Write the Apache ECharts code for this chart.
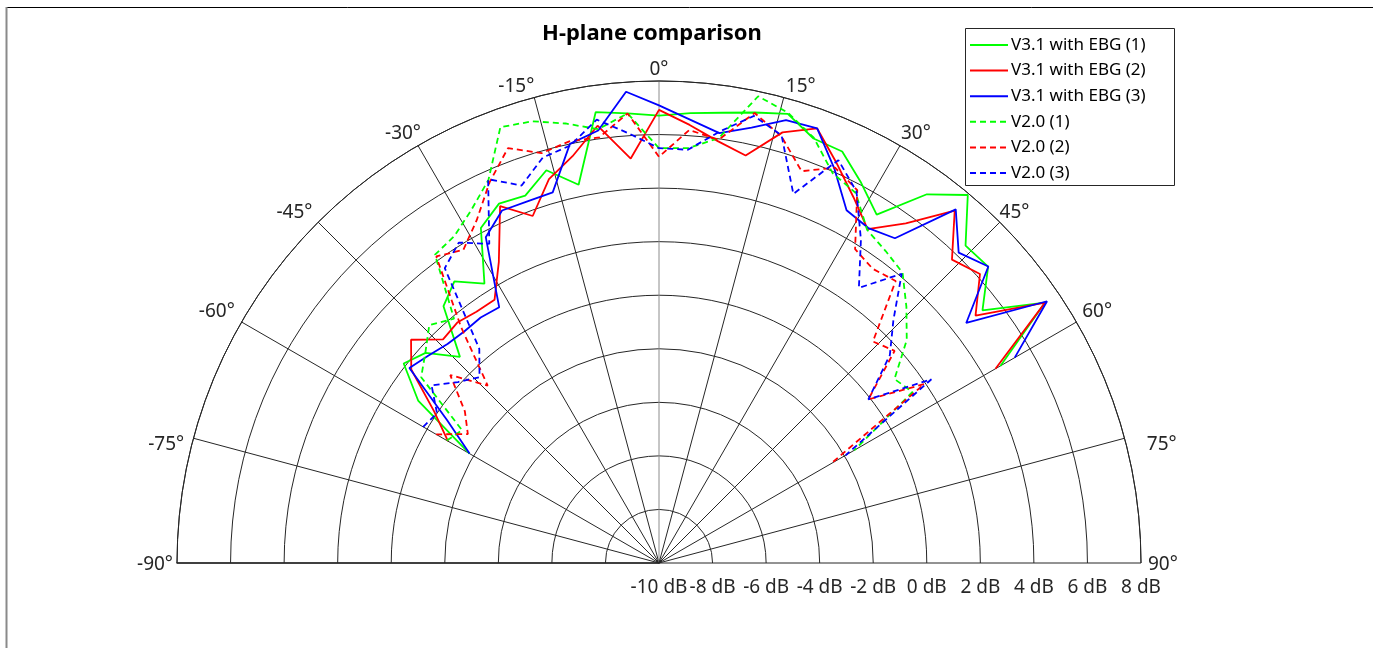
<!DOCTYPE html>
<html>
<head>
<meta charset="utf-8">
<script src="https://cdn.jsdelivr.net/npm/echarts@6/dist/echarts.min.js"></script>
<style>
  html, body { margin: 0; padding: 0; background: #fff; }
  #chart { width: 1373px; height: 648px; }
</style>
</head>
<body>
<div id="chart"></div>
<script>
// Measurement angles (degrees) shared by every pattern cut
const angles = [-60,-56,-52,-48,-44,-40,-36,-32,-28,-24,-20,-16,-12,-8,-4,0,4,8,12,16,20,24,28,32,36,40,44,48,52,56,60];

// Received level in dB, one value per angle
const v31ebg1 = [-1.83,0.85,2.10,1.73,0.70,2.52,3.00,2.30,4.17,4.69,4.60,5.26,4.44,7.00,6.83,6.71,6.84,6.98,7.20,7.45,6.87,6.82,6.08,5.34,7.02,7.94,6.48,6.54,5.33,7.39,4.72];
const v31ebg2 = [-0.90,0.13,1.74,2.46,1.61,1.72,1.60,1.59,2.74,4.59,3.79,4.91,5.53,6.49,5.14,6.92,6.40,5.90,5.56,6.73,7.27,6.33,5.47,4.70,5.68,7.18,5.75,6.13,5.00,7.39,4.51];
const v31ebg3 = [-1.83,-0.45,1.83,1.58,1.37,1.30,1.33,1.26,3.78,4.41,4.37,4.40,6.00,6.31,7.64,7.09,6.60,6.21,6.62,7.21,7.27,6.11,4.92,4.75,4.99,7.24,6.11,6.55,4.56,7.48,5.34];
const v20_1 = [-0.85,-1.13,1.27,1.74,2.35,1.91,4.23,4.41,4.93,5.66,7.32,7.16,6.78,6.36,6.83,5.49,5.53,6.02,7.82,7.49,6.90,5.94,5.65,4.67,4.40,4.15,3.30,2.45,1.16,1.42,-1.58];
const v20_2 = [-0.39,-1.39,-0.80,0.49,-0.79,1.50,4.15,3.79,4.50,5.56,6.49,5.92,6.10,6.05,6.83,5.17,6.21,5.96,7.18,6.58,5.57,6.16,5.77,3.82,3.58,3.75,1.50,1.84,-0.08,1.95,-2.60];
const v20_3 = [0.17,0.00,0.78,0.10,-0.35,0.44,3.61,4.11,3.50,5.69,5.00,5.75,5.94,6.72,6.08,5.49,5.47,6.27,7.07,6.61,4.67,6.47,5.71,4.23,2.70,4.10,2.60,1.60,-0.08,2.27,-1.95];

const seriesNames = ['V3.1 with EBG (1)','V3.1 with EBG (2)','V3.1 with EBG (3)','V2.0 (1)','V2.0 (2)','V2.0 (3)'];
const seriesValues = [v31ebg1, v31ebg2, v31ebg3, v20_1, v20_2, v20_3];
const seriesColors = ['#00ff00','#ff0000','#0000ff','#00ff00','#ff0000','#0000ff'];
const seriesDashed = [false,false,false,true,true,true];

// Axis ranges and tick steps
const angleMin = -90, angleMax = 90, angleStep = 15;
const levelMin = -10, levelMax = 8, levelStep = 2;

const FONT = '"Noto Sans", "DejaVu Sans", sans-serif';
const INK = '#262626';
const CX = 659, CY = 563, R = 482;

// Spokes: dark, except the 0° one which is drawn grey
const spokeColors = [];
for (let a = angleMin; a <= angleMax; a += angleStep) spokeColors.push(a === 0 ? '#8c8c8c' : INK);

// Angle label nudges [top, right, bottom, left] so each label sits centred on its spoke
const angleLabelPad = {
  '-90': [4, 10, 0, 0], '-75': [10, 15, 0, 0], '-60': [0, 12, 4, 0], '-45': [0, 10, 4, 0],
  '-30': [0, 0, 8, 0], '-15': [0, 39, 7, 0], '0': [0, 0, 8, 0], '15': [0, 0, 7, 37],
  '30': [0, 0, 8, 4], '45': [0, 0, 4, 4], '60': [0, 0, 4, 11], '75': [10, 0, 0, 28], '90': [4, 0, 0, 13]
};
const angleRich = {};
const angleRichKey = {};
Object.keys(angleLabelPad).forEach((k, i) => {
  angleRich['a' + i] = { fontFamily: FONT, fontSize: 19, color: INK, padding: angleLabelPad[k] };
  angleRichKey[k] = 'a' + i;
});

const chart = echarts.init(document.getElementById('chart'), null, { renderer: 'canvas' });

const series = seriesNames.map((name, i) => ({
  name,
  type: 'line',
  coordinateSystem: 'polar',
  polarIndex: 0,
  symbol: 'none',
  animation: false,
  clip: false,
  data: angles.map((a, k) => [seriesValues[i][k], a]),
  lineStyle: {
    color: seriesColors[i],
    width: 1.8,
    type: seriesDashed[i] ? [6, 4] : 'solid'
  },
  itemStyle: { color: seriesColors[i] },
  z: 3
}));

chart.setOption({
  animation: false,
  backgroundColor: '#ffffff',
  title: {
    text: 'H-plane comparison',
    left: 647,
    top: 18,
    textAlign: 'center',
    textStyle: { fontFamily: FONT, fontSize: 22, fontWeight: 'bold', color: '#000' }
  },
  legend: {
    orient: 'vertical',
    left: 969,
    top: 36,
    padding: 0,
    itemWidth: 38,
    itemHeight: 14,
    itemGap: 7.6,
    itemStyle: { opacity: 0 },
    data: seriesNames,
    textStyle: { fontFamily: FONT, fontSize: 17, lineHeight: 18, color: '#000', padding: [0, 0, 0, -2] }
  },
  polar: { center: [CX, CY], radius: [0, R] },
  angleAxis: {
    type: 'value',
    min: angleMin,
    max: angleMax,
    interval: angleStep,
    startAngle: 180,
    endAngle: 0,
    clockwise: true,
    axisLine: { show: true, lineStyle: { color: INK, width: 1 } },
    axisTick: { show: false },
    axisLabel: {
      margin: -6,
      fontFamily: FONT,
      fontSize: 19,
      color: INK,
      formatter: v => '{' + angleRichKey[String(v)] + '|' + v + '°}',
      rich: angleRich
    },
    splitLine: { show: true, lineStyle: { color: spokeColors, width: 1 } }
  },
  radiusAxis: {
    type: 'value',
    min: levelMin,
    max: levelMax,
    interval: levelStep,
    axisLine: { show: true, lineStyle: { color: INK, width: 1.5 } },
    axisTick: { show: false },
    axisLabel: { show: false },
    splitLine: { show: true, lineStyle: { color: INK, width: 1 } }
  },
  // Level scale printed under the right half of the baseline
  grid: { left: CX, width: R, top: 300, height: CY - 300 },
  xAxis: {
    type: 'value',
    min: levelMin,
    max: levelMax,
    interval: levelStep,
    axisLine: { show: false },
    axisTick: { show: false },
    splitLine: { show: false },
    axisLabel: {
      margin: 15,
      fontFamily: FONT,
      fontSize: 19,
      color: INK,
      formatter: v => v + ' dB'
    }
  },
  yAxis: { type: 'value', show: false, min: 0, max: 1 },
  graphic: [
    { type: 'line', shape: { x1: 6, y1: 7.5, x2: 1373, y2: 7.5 }, style: { stroke: '#000', lineWidth: 1 }, silent: true },
    { type: 'line', shape: { x1: 6.5, y1: 7, x2: 6.5, y2: 648 }, style: { stroke: '#8a8a8a', lineWidth: 2 }, silent: true },
    { type: 'rect', shape: { x: 965.5, y: 28.5, width: 209, height: 157 }, style: { fill: 'rgba(255,255,255,0)', stroke: INK, lineWidth: 1 }, z: 10, silent: true }
  ],
  series
});
</script>
</body>
</html>
